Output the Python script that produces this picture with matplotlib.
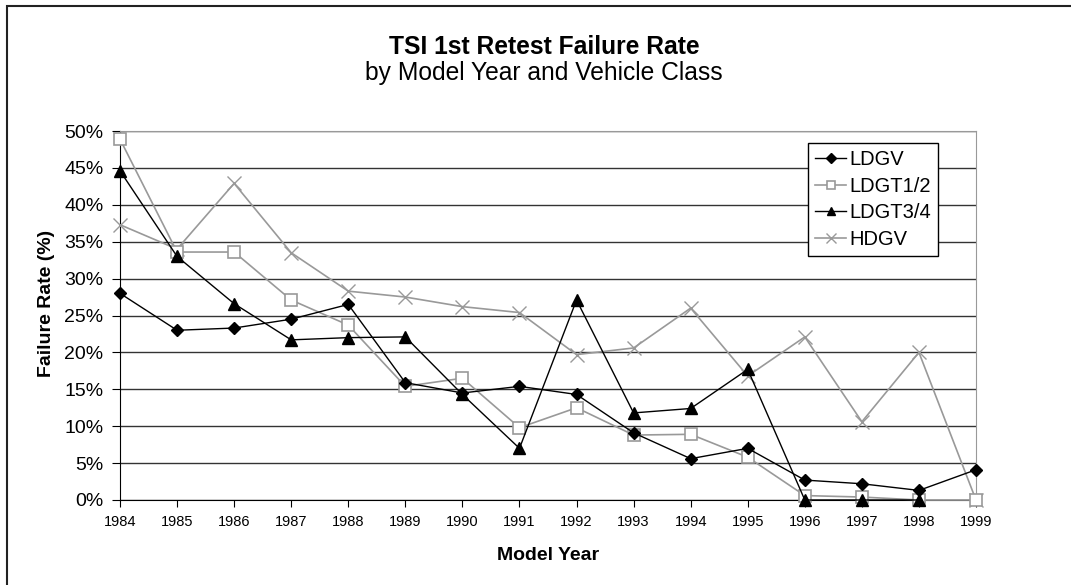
import numpy as np
import matplotlib
matplotlib.use("Agg")
import matplotlib.pyplot as plt
from matplotlib.ticker import FuncFormatter
from matplotlib.patches import Rectangle

plt.rcParams['font.family'] = ['Liberation Sans', 'DejaVu Sans']

years = list(range(1984, 2000))
ldgv = [28.0, 23.0, 23.3, 24.5, 26.5, 15.9, 14.5, 15.4, 14.3, 9.1, 5.6, 7.0, 2.7, 2.2, 1.3, 4.1]
ldgt12 = [48.9, 33.6, 33.6, 27.1, 23.7, 15.4, 16.5, 9.8, 12.5, 8.8, 8.9, 5.8, 0.6, 0.4, 0.0, 0.0]
ldgt34 = [44.6, 33.0, 26.6, 21.7, 22.0, 22.1, 14.3, 7.0, 27.1, 11.8, 12.4, 17.7, 0.0, 0.0, 0.0, np.nan]
hdgv = [37.3, 34.0, 42.9, 33.5, 28.3, 27.5, 26.2, 25.4, 19.7, 20.6, 26.0, 16.8, 22.1, 10.6, 20.0, 0.0]

W, H = 1071, 585
fig = plt.figure(figsize=(W / 100, H / 100), dpi=100)
ax = fig.add_axes([120 / W, 1 - 500 / H, (976 - 120) / W, (500 - 131) / H])

# outer chart frame (only left/top edges fall inside the image)
fig.patches.append(Rectangle((7 / W, -0.05), 1.1, 1 - 6 / H + 0.05, transform=fig.transFigure,
                             fill=False, edgecolor='#222222', linewidth=1.5))

ax.plot(years, ldgv, color='black', lw=1, marker='D', ms=6.5, mfc='black', mec='black',
        label='LDGV', zorder=5, clip_on=False)
ax.plot(years, ldgt12, color='#999999', lw=1.2, marker='s', ms=8.5, mfc='white', mec='#999999', mew=1.2,
        label='LDGT1/2', zorder=4, clip_on=False)
ax.plot(years, ldgt34, color='black', lw=1, marker='^', ms=8.5, mfc='black', mec='black',
        label='LDGT3/4', zorder=6, clip_on=False)
ax.plot(years, hdgv, color='#999999', lw=1.2, marker='x', ms=10, mec='#999999', mew=1,
        label='HDGV', zorder=3, clip_on=False)

ax.set_xlim(1984, 1999)
ax.set_ylim(0, 50)
ax.set_xticks(years)
ax.set_yticks(np.arange(0, 51, 5))
ax.yaxis.set_major_formatter(FuncFormatter(lambda v, p: f"{v:.0f}%"))
ax.grid(axis='y', color='#333333', lw=1)
ax.set_axisbelow(True)
for s in ['top', 'right']:
    ax.spines[s].set_color('#999999')
ax.spines['left'].set_color('black')
ax.spines['bottom'].set_color('black')
ax.tick_params(axis='x', labelsize=10.5, length=5, direction='out', pad=6)
ax.tick_params(axis='y', labelsize=14, length=6, direction='out', pad=6)

ax.set_xlabel('Model Year', fontsize=14, fontweight='bold')
ax.xaxis.set_label_coords(0.5, -(555 - 500) / (500 - 131))
ax.set_ylabel('Failure Rate (%)', fontsize=14, fontweight='bold')
ax.yaxis.set_label_coords(-(120 - 47) / (976 - 120), (500 - 303) / (500 - 131))
ax.yaxis.label.set_va('center')
ax.xaxis.label.set_va('center')

fig.text(544 / W, 1 - 47 / H, 'TSI 1st Retest Failure Rate', ha='center', va='center',
         fontsize=17.7, fontweight='bold')
fig.text(544 / W, 1 - 73 / H, 'by Model Year and Vehicle Class', ha='center', va='center', fontsize=17.7)

leg = ax.legend(loc='upper left', bbox_to_anchor=(808 / W, 1 - 143 / H), bbox_transform=fig.transFigure,
                fontsize=14.5, frameon=True, fancybox=False, edgecolor='black', framealpha=1,
                handlelength=1.55, handletextpad=0.15, borderpad=0.35, labelspacing=0.38,
                borderaxespad=0, markerscale=0.75)
leg.get_frame().set_linewidth(1)

fig.savefig('out.png', dpi=100)
